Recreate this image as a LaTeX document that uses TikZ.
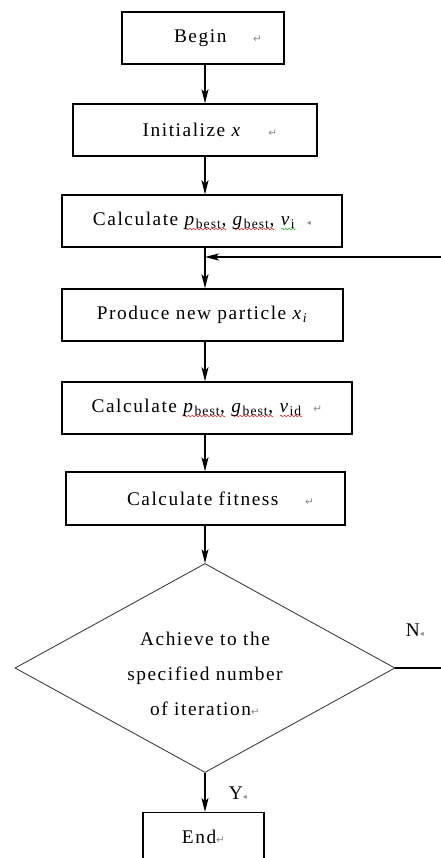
\documentclass[tikz,border=0pt]{standalone}
\usepackage{fontspec}
\setmainfont[LetterSpace=8]{Liberation Serif}
\newfontfamily\markfont{DejaVu Sans}
\usetikzlibrary{arrows.meta,positioning,shapes.geometric}

\definecolor{spellred}{RGB}{225,30,30}
\definecolor{spellgreen}{RGB}{40,165,40}

\newcommand\returnmark{{\markfont\color{black!45}\fontsize{9}{9}\selectfont ↵}}
\newcommand\cellmark{{\markfont\color{black!45}\fontsize{7}{7}\selectfont ◂}}
%% little wave for the spell-check underline
\newcommand\waveunit[1]{\hbox to 3pt{\rlap{\color{#1}\begin{pgfpicture}\pgfsetlinewidth{0.45pt}%
  \pgfpathmoveto{\pgfpointorigin}\pgfpathsine{\pgfpoint{0.75pt}{0.7pt}}\pgfpathcosine{\pgfpoint{0.75pt}{-0.7pt}}%
  \pgfpathsine{\pgfpoint{0.75pt}{-0.7pt}}\pgfpathcosine{\pgfpoint{0.75pt}{0.7pt}}\pgfusepath{stroke}\end{pgfpicture}}\hfil}}
\newbox\wavetext
\newcommand\spellwave[2]{\setbox\wavetext\hbox{#2}\rlap{\lower4pt\hbox to \wd\wavetext{\xleaders\waveunit{#1}\hfil}}\box\wavetext}

\begin{document}
\begin{tikzpicture}[
    >={Stealth[length=12pt,width=6pt,inset=3pt]},
    every node/.style={font=\fontsize{16.5}{20}\selectfont},
    stepbox/.style={draw, line width=1.2pt, inner sep=0pt, minimum height=1.56cm},
    decision/.style={diamond, draw=black!80, line width=0.7pt, aspect=1.82,
      minimum width=11.4cm, minimum height=6.27cm, inner sep=0pt, align=center,
      font=\fontsize{16.5}{30}\selectfont},
    flow/.style={->, line width=1pt},
  ]
  \useasboundingbox (0,0) rectangle (13.23,-25.74);

  \node (begin) [stepbox, minimum width=4.86cm] at (6.09,-1.14) {\hspace*{0.9cm}Begin\hspace*{0.8cm}\returnmark};
  \node (init) [stepbox, minimum width=7.32cm] at (5.85,-3.9) {\hspace*{0.9cm}Initialize \textit{x}\hspace*{0.8cm}\returnmark};
  \node (calc1) [stepbox, minimum width=8.4cm] at (6.06,-6.63)
    {Calculate \spellwave{spellred}{\textit{p}\textsubscript{best},} \spellwave{spellred}{\textit{g}\textsubscript{best},} \spellwave{spellgreen}{\textit{v}\textsubscript{i}}\hspace*{0.35cm}\cellmark};
  \node (produce) [stepbox, minimum width=8.43cm] at (6.075,-9.45) {Produce new particle \textit{x}\textsubscript{\textit{i}}};
  \node (calc2) [stepbox, minimum width=8.7cm] at (6.21,-12.24)
    {Calculate \spellwave{spellred}{\textit{p}\textsubscript{best},} \spellwave{spellred}{\textit{g}\textsubscript{best},} \spellwave{spellred}{\textit{v}\textsubscript{id}}\hspace*{0.35cm}\returnmark};
  \node (fitness) [stepbox, minimum width=8.37cm, minimum height=1.59cm] at (6.165,-14.955) {\hspace*{0.9cm}Calculate fitness\hspace*{0.8cm}\returnmark};
  \node (check) [decision] at (6.15,-20.04) {\rule{0pt}{21pt}Achieve to the\\specified number\\of iteration\returnmark};
  \node (finish) [stepbox, minimum width=3.63cm, minimum height=1.44cm] at (6.105,-25.1) {End\returnmark};

  %% branch labels
  \node (no) at (12.45,-18.9) {N\cellmark};
  \node (yes) at (7.14,-23.79) {Y\cellmark};
  \coordinate (back) at (13.3,-7.71);

  \draw[flow] (begin.south -| check.north) -- (init.north -| check.north);
  \draw[flow] (init.south -| check.north) -- (calc1.north -| check.north);
  \draw[flow] (calc1.south -| check.north) -- (produce.north -| check.north);
  \draw[flow] (produce.south -| check.north) -- (calc2.north -| check.north);
  \draw[flow] (calc2.south -| check.north) -- (fitness.north -| check.north);
  \draw[flow] (fitness.south -| check.north) -- (check.north);
  \draw[flow] (check.south) -- (finish.north -| check.south);
  \draw[flow] (check.east) -| (back) -- (back -| check.north);
\end{tikzpicture}
\end{document}
